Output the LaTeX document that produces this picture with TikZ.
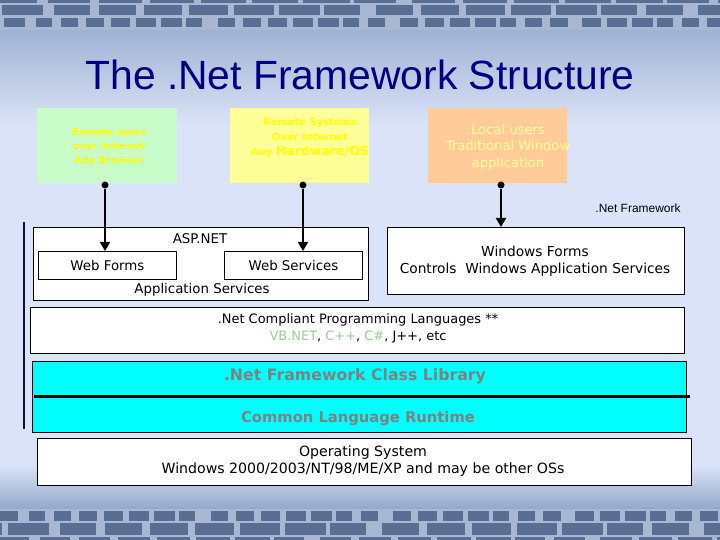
\documentclass[tikz,border=0pt]{standalone}
\usepackage{fontspec}
\setmainfont{Liberation Sans}
\newfontfamily\bfont{DejaVu Sans}
\usetikzlibrary{arrows.meta}
\definecolor{bgc}{HTML}{DAE3F7}
\definecolor{bgtop}{HTML}{9FB1D3}
\definecolor{bgbot}{HTML}{8FA3C8}
\definecolor{brickc}{HTML}{5A6D93}
\definecolor{mortar}{HTML}{A9B8D2}
\definecolor{navy}{HTML}{000080}
\definecolor{gfill}{HTML}{C8FCC8}
\definecolor{yfill}{HTML}{FFFF99}
\definecolor{ofill}{HTML}{FFCC99}
\definecolor{ytext}{HTML}{FFFF00}
\definecolor{otext}{HTML}{FFFF99}
\definecolor{lgreen}{HTML}{99CC99}
\definecolor{cyanf}{HTML}{00FFFF}
\definecolor{graytext}{HTML}{808080}
\newcommand\brickrow[4]{%
  \foreach \i in {-1,...,30}{%
    \pgfmathsetmacro\xa{\i*#3+#4+mod(\i*13,7)}%
    \pgfmathsetmacro\xb{\xa+#3-5-mod(\i*5,6)}%
    \fill[brickc] (\xa,#1) rectangle (\xb,#2);}}
\tikzset{
  colorbox/.style={anchor=north west,inner sep=0pt,outer sep=0pt},
  wbox/.style={draw=black,fill=white,line width=0.9bp,anchor=north west,inner sep=0pt},
  btext/.style={font=\bfont\fontsize{13.4}{17}\selectfont,text=black,align=center,inner sep=0pt},
  dot/.style={circle,fill=black,inner sep=0pt,minimum size=7bp},
  conn/.style={line width=2.5bp,-{Triangle[width=10bp,length=9bp]}},
}
\begin{document}
\begin{tikzpicture}[x=1bp,y=-1bp]
\useasboundingbox (0,0) rectangle (720,540);
\begin{scope}
\clip (0,0) rectangle (720,540);
% background
\fill[bgc] (0,0) rectangle (720,540);
\shade[top color=bgtop,bottom color=bgc] (0,28) rectangle (720,125);
\shade[top color=bgc,bottom color=bgbot] (0,465) rectangle (720,512);
% bricks top
\fill[mortar] (0,0) rectangle (720,30);
\brickrow{0}{3}{52}{-10}
\brickrow{5}{15}{46}{2}
\brickrow{18}{27}{26}{4}
% bricks bottom
\fill[mortar] (0,509) rectangle (720,540);
\brickrow{511}{521}{26}{-3}
\brickrow{523}{535}{46}{8}
\brickrow{537}{541}{40}{-6}
\end{scope}
% title
\node[font=\fontsize{41}{48}\selectfont,text=navy,inner sep=0pt] (title) at (360,75) {The .Net Framework Structure};
% top colour boxes
\node[colorbox,fill=gfill,minimum width=140bp,minimum height=75bp] (green) at (37,108) {};
\node[colorbox,fill=yfill,minimum width=139bp,minimum height=75bp] (yellow) at (230,108) {};
\node[colorbox,fill=ofill,minimum width=139bp,minimum height=75bp] (orange) at (428,108) {};
\node[font=\bfont\bfseries\fontsize{9.7}{14.5}\selectfont,text=ytext,align=center,inner sep=0pt] (gt) at (109,147) {Remote users\\over Internet\\Any Browser};
\node[font=\bfont\bfseries\fontsize{10}{15}\selectfont,text=ytext,align=center,inner sep=0pt] (yt) at (310,138) {Remote Systems\\Over Internet\\Any {\fontsize{12.6}{15}\selectfont Hardware/OS}};
\node[font=\bfont\fontsize{13.2}{16.5}\selectfont,text=otext,align=center,inner sep=0pt] (ot) at (508,147) {Local users\\Traditional Window\\application};
% dots
\node[dot] (d1) at (105,185) {};
\node[dot] (d2) at (303,185) {};
\node[dot] (d3) at (501,185) {};
% .Net Framework label
\node[font=\fontsize{12}{14}\selectfont,inner sep=0pt] (nf) at (638,208) {.Net Framework};
% left vertical line
\coordinate (v1) at (24,222);
\coordinate (v2) at (24,429);
\draw[line width=2bp,draw={rgb,255:red,16;green,16;blue,48}] (v1) -- (v2);
% ASP.NET
\node[wbox,minimum width=335bp,minimum height=73bp] (asp) at (33,227) {};
\node[wbox,minimum width=138bp,minimum height=28bp] (wf) at (38,251) {};
\node[wbox,minimum width=138bp,minimum height=28bp] (ws) at (224,251) {};
\node[btext] (asptxt) at (200,239) {ASP.NET};
\node[btext] (wftxt) at (wf.center) {Web Forms};
\node[btext] (wstxt) at (ws.center) {Web Services};
\node[btext] (apptxt) at (202,290) {Application Services};
% Windows forms
\node[wbox,minimum width=297bp,minimum height=67bp] (win) at (387,227) {};
\node[btext,font=\bfont\fontsize{13.8}{17.5}\selectfont] (wint) at (535,261) {Windows Forms\\Controls\ \ Windows Application Services};
% connectors
\draw[conn] (d1) -- (d1 |- wf.north);
\draw[conn] (d2) -- (d2 |- ws.north);
\draw[conn] (d3) -- (d3 |- win.north);
% .Net compliant languages
\node[wbox,minimum width=654bp,minimum height=46bp] (lang) at (30,307) {};
\node[btext,font=\bfont\fontsize{13}{17}\selectfont] (langt) at (358,328) {.Net Compliant Programming Languages **\\{\color{lgreen}VB.NET}, {\color{lgreen}C++}, {\color{lgreen}C\#}, J++, etc};
% CLR / class library
\node[wbox,fill=cyanf,minimum width=654bp,minimum height=71bp] (cyan) at (32,361) {};
\coordinate (cl1) at (35,396);
\coordinate (cl2) at (688,396);
\draw[line width=3bp,line cap=rect] (cl1) -- (cl2);
\node[btext,font=\bfont\bfseries\fontsize{15.8}{18}\selectfont,text=graytext] (fcl) at (355,376) {.Net Framework Class Library};
\node[btext,font=\bfont\bfseries\fontsize{14.8}{18}\selectfont,text=graytext] (clr) at (358,418) {Common Language Runtime};
% OS
\node[wbox,minimum width=654bp,minimum height=47bp] (os) at (37,438) {};
\node[btext,font=\bfont\fontsize{14.2}{17}\selectfont] (ost) at (363,461) {Operating System\\Windows 2000/2003/NT/98/ME/XP and may be other OSs};
\end{tikzpicture}
\end{document}
